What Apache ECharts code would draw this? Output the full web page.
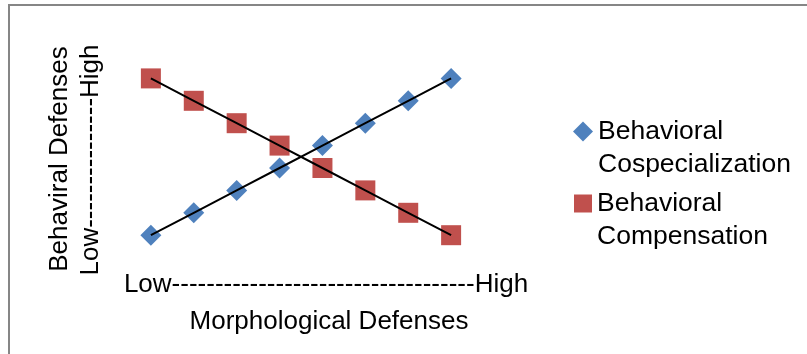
<!DOCTYPE html>
<html>
<head>
<meta charset="utf-8">
<script src="https://cdn.jsdelivr.net/npm/echarts@6/dist/echarts.min.js"></script>
<style>html,body{margin:0;padding:0;background:#fff}#c{width:807px;height:354px}</style>
</head>
<body>
<div id="c"></div>
<script>
const xValues = [1, 2, 3, 4, 5, 6, 7, 8];
const cospecialization = [1, 2, 3, 4, 5, 6, 7, 8];
const compensation = [8, 7, 6, 5, 4, 3, 2, 1];
const seriesNames = ['Behavioral Cospecialization', 'Behavioral Compensation'];
const legendLabels = ['Behavioral\nCospecialization', 'Behavioral\nCompensation'];
const xTitle1 = 'Low' + '-'.repeat(35) + 'High';
const xTitle2 = 'Morphological Defenses';
const yTitle1 = 'Behaviral Defenses';
const yTitle2 = 'Low' + '-'.repeat(15) + 'High';

const FONT = '"Liberation Sans", Arial, sans-serif';
const pts = (ys) => xValues.map((x, i) => [x, ys[i]]);

const chart = echarts.init(document.getElementById('c'), null, {renderer: 'canvas'});
const legendText = {fontFamily: FONT, fontSize: 26.5, color: '#000', lineHeight: 33};
chart.setOption({
  animation: false,
  backgroundColor: '#fff',
  grid: {left: 108, width: 386, top: 56, height: 201.6},
  xAxis: {type: 'value', min: 0, max: 9, show: false},
  yAxis: {type: 'value', min: 0, max: 9, show: false},
  legend: [
    {data: [{name: seriesNames[0], icon: 'diamond'}], left: 573, top: 82, padding: 0, itemWidth: 20, itemHeight: 20, itemGap: 4,
     formatter: () => '\n' + legendLabels[0], textStyle: legendText, selectedMode: false},
    {data: [{name: seriesNames[1], icon: 'rect'}], left: 574, top: 154, padding: 0, itemWidth: 18, itemHeight: 18, itemGap: 4,
     formatter: () => '\n' + legendLabels[1], textStyle: legendText, selectedMode: false}
  ],
  graphic: [
    {type: 'rect', shape: {x: 9, y: 5, width: 900, height: 500}, style: {fill: 'none', stroke: '#868686', lineWidth: 2}, silent: true},
    {type: 'text', x: 326, y: 285, style: {text: xTitle1, font: '26px ' + FONT, fill: '#000', textAlign: 'center', textVerticalAlign: 'middle'}},
    {type: 'text', x: 329, y: 322, style: {text: xTitle2, font: '26px ' + FONT, fill: '#000', textAlign: 'center', textVerticalAlign: 'middle'}},
    {type: 'text', x: 60, y: 159, rotation: Math.PI / 2, style: {text: yTitle1, font: '26px ' + FONT, fill: '#000', textAlign: 'center', textVerticalAlign: 'middle'}},
    {type: 'text', x: 91, y: 160, rotation: Math.PI / 2, style: {text: yTitle2, font: '26px ' + FONT, fill: '#000', textAlign: 'center', textVerticalAlign: 'middle'}}
  ],
  series: [
    {name: 'trend1', type: 'line', data: pts(cospecialization), symbol: 'none', lineStyle: {color: '#000', width: 2}, z: 3, silent: true},
    {name: 'trend2', type: 'line', data: pts(compensation), symbol: 'none', lineStyle: {color: '#000', width: 2}, z: 3, silent: true},
    {name: seriesNames[0], type: 'scatter', data: pts(cospecialization), symbol: 'diamond', symbolSize: 21,
     itemStyle: {color: '#4F81BD', opacity: 1}, z: 2},
    {name: seriesNames[1], type: 'scatter', data: pts(compensation), symbol: 'rect', symbolSize: 20,
     itemStyle: {color: '#C0504D', opacity: 1}, z: 2}
  ]
});
</script>
</body>
</html>
